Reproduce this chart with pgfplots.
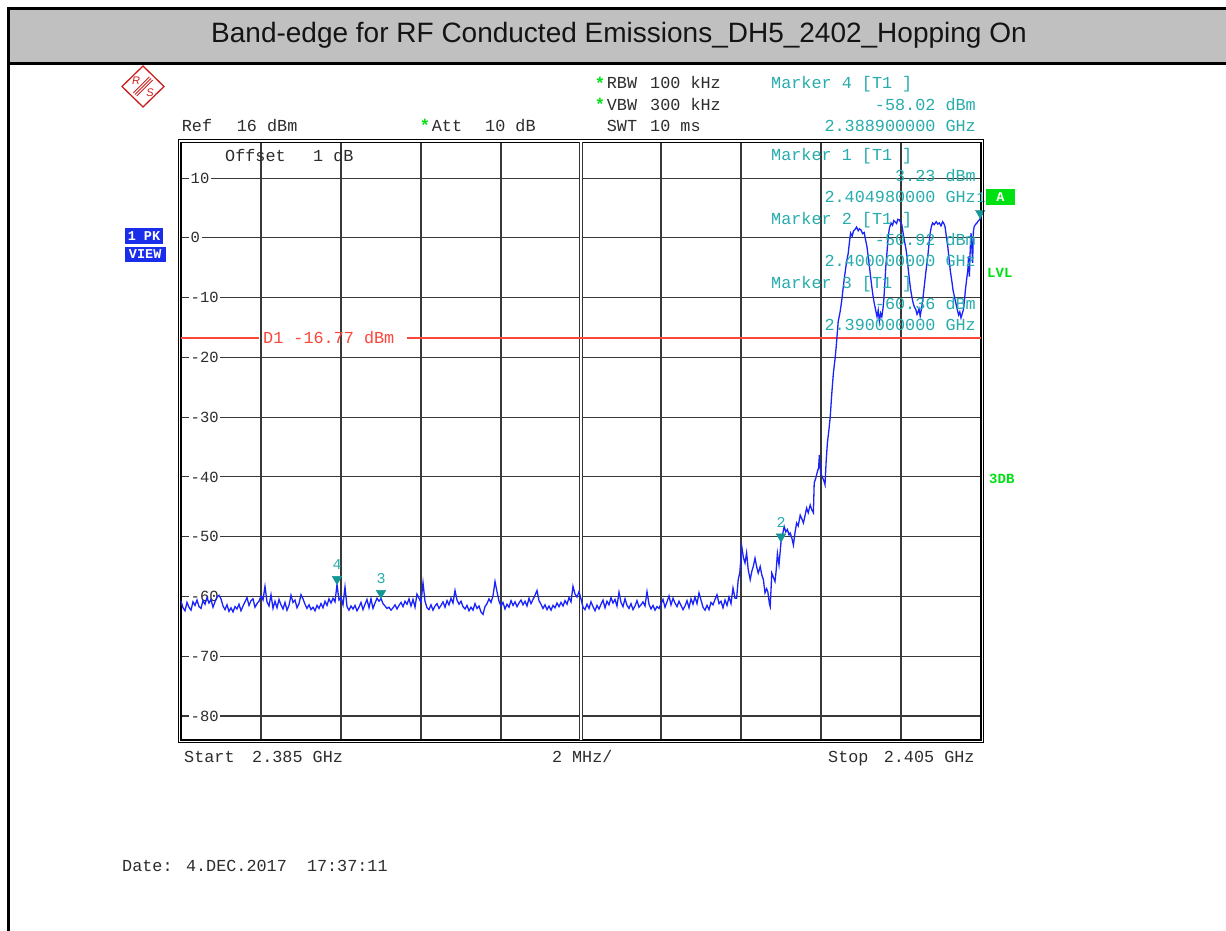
\documentclass[border=0pt]{standalone}
\usepackage{fontspec}
\setmainfont{Liberation Sans}
\newfontfamily\mono{Liberation Mono}
\usepackage{pgfplots}
\pgfplotsset{compat=1.18}
\definecolor{trace}{RGB}{25,35,250}
\definecolor{mk}{RGB}{40,172,172}
\definecolor{mkfill}{RGB}{20,150,150}
\definecolor{dl}{RGB}{250,70,60}
\definecolor{grn}{RGB}{0,225,20}
\definecolor{pkblue}{RGB}{25,45,235}
\definecolor{band}{RGB}{192,192,192}
\definecolor{txt}{RGB}{45,45,45}
\definecolor{rs}{RGB}{205,30,30}
\newcommand\mfont{\mono\fontsize{16.8}{18}\selectfont}
\begin{document}
\begin{tikzpicture}[x=1pt,y=-1pt,
  mt/.style={font=\mfont, text=txt, inner sep=0pt},
  mm/.style={font=\mfont, text=mk, inner sep=0pt},
  ylab/.style={anchor=west, xshift=8pt, fill=white, inner xsep=1.5pt, inner ysep=0.5pt, font=\mono\fontsize{15.5}{16}\selectfont, text=txt}]
\path[use as bounding box] (0,0) rectangle (1226,931);
\fill[white] (0,0) rectangle (1226,931);
% title band
\fill[band] (8,9) rectangle (1226,63);
\draw[line width=3pt] (7,8.5) -- (1226,8.5);
\draw[line width=3pt] (7,64) -- (1226,64);
\draw[line width=3pt] (8.5,7) -- (8.5,931);
\node[font=\fontsize{28}{32}\selectfont, text=black!92] at (619,35) {Band-edge for RF Conducted Emissions\_DH5\_2402\_Hopping On};

\begin{axis}[
  at={(181pt,-739.9pt)}, anchor=south west,
  width=800pt, height=597.7pt, scale only axis,
  xmin=2385, xmax=2405, ymin=-84, ymax=16,
  xtick={2387,2389,...,2403}, ytick={-80,-70,...,10},
  xticklabels={}, yticklabels={},
  major tick length=0pt,
  grid=major, grid style={line width=1.1pt, color=black!78},
  axis line style={line width=1.2pt, black},
  clip=false]
\draw[line width=0.9pt, double distance=1.4pt, black!80] (axis cs:2395,-84) -- (axis cs:2395,16);
\node[ylab] at (axis cs:2385,10) {10};
\node[ylab] at (axis cs:2385,0) {0};
\node[ylab] at (axis cs:2385,-10) {-10};
\node[ylab] at (axis cs:2385,-20) {-20};
\node[ylab] at (axis cs:2385,-30) {-30};
\node[ylab] at (axis cs:2385,-40) {-40};
\node[ylab] at (axis cs:2385,-50) {-50};
\node[ylab] at (axis cs:2385,-60) {-60};
\node[ylab] at (axis cs:2385,-70) {-70};
\node[ylab] at (axis cs:2385,-80) {-80};
% display line D1
\draw[dl, line width=1.3pt] (axis cs:2385,-16.77) -- (axis cs:2386.95,-16.77);
\draw[dl, line width=1.3pt] (axis cs:2390.65,-16.77) -- (axis cs:2405,-16.77);
\node[anchor=west, font=\mfont, text=dl, inner sep=0pt] at (axis cs:2387.05,-16.6) {D1 -16.77 dBm};
% trace
\addplot[trace, line width=1.3pt, mark=none] coordinates {
(2385.00,-60.8)(2385.05,-61.9)(2385.10,-62.4)(2385.15,-61.0)(2385.20,-61.8)(2385.25,-62.3)(2385.30,-60.9)(2385.35,-61.5)(2385.40,-60.6)(2385.45,-61.7)
(2385.50,-62.0)(2385.55,-60.7)(2385.60,-61.3)(2385.65,-60.2)(2385.70,-61.1)(2385.75,-60.5)(2385.80,-61.8)(2385.85,-60.9)(2385.90,-60.1)(2385.95,-59.8)
(2386.00,-60.4)(2386.05,-61.6)(2386.10,-62.2)(2386.15,-61.4)(2386.20,-62.5)(2386.25,-61.9)(2386.30,-62.6)(2386.35,-61.7)(2386.40,-62.1)(2386.45,-61.3)
(2386.50,-62.4)(2386.55,-61.6)(2386.60,-60.9)(2386.65,-60.2)(2386.70,-61.5)(2386.75,-60.7)(2386.80,-60.4)(2386.85,-61.8)(2386.90,-61.2)(2386.95,-60.8)
(2387.00,-59.9)(2387.05,-60.6)(2387.10,-58.3)(2387.15,-60.9)(2387.20,-61.6)(2387.25,-59.7)(2387.30,-62.0)(2387.35,-60.8)(2387.40,-61.9)(2387.45,-60.5)
(2387.50,-61.4)(2387.55,-62.1)(2387.60,-61.0)(2387.65,-62.3)(2387.70,-61.5)(2387.75,-59.8)(2387.80,-61.0)(2387.85,-60.6)(2387.90,-61.9)(2387.95,-61.2)
(2388.00,-59.7)(2388.05,-60.4)(2388.10,-61.3)(2388.15,-62.0)(2388.20,-61.4)(2388.25,-62.2)(2388.30,-61.8)(2388.35,-62.4)(2388.40,-61.5)(2388.45,-62.0)
(2388.50,-61.2)(2388.55,-61.9)(2388.60,-60.8)(2388.65,-61.5)(2388.70,-60.4)(2388.75,-61.1)(2388.80,-60.3)(2388.85,-60.9)(2388.90,-58.02)(2388.95,-60.6)
(2389.00,-60.2)(2389.05,-61.4)(2389.10,-58.4)(2389.15,-61.7)(2389.20,-62.3)(2389.25,-61.6)(2389.30,-62.1)(2389.35,-61.5)(2389.40,-62.4)(2389.45,-61.8)
(2389.50,-61.0)(2389.55,-62.2)(2389.60,-61.3)(2389.65,-60.5)(2389.70,-61.9)(2389.75,-60.4)(2389.80,-62.0)(2389.85,-61.1)(2389.90,-60.3)(2389.95,-60.8)
(2390.00,-60.36)(2390.05,-61.2)(2390.10,-61.6)(2390.15,-62.0)(2390.20,-61.8)(2390.25,-62.3)(2390.30,-61.9)(2390.35,-61.4)(2390.40,-62.1)(2390.45,-61.5)
(2390.50,-61.0)(2390.55,-61.7)(2390.60,-60.8)(2390.65,-61.3)(2390.70,-60.4)(2390.75,-61.6)(2390.80,-60.5)(2390.85,-61.8)(2390.90,-59.6)(2390.95,-60.3)
(2391.00,-61.0)(2391.05,-57.7)(2391.10,-60.8)(2391.15,-61.9)(2391.20,-62.2)(2391.25,-61.4)(2391.30,-62.3)(2391.35,-61.6)(2391.40,-61.2)(2391.45,-62.0)
(2391.50,-61.5)(2391.55,-60.9)(2391.60,-61.8)(2391.65,-60.7)(2391.70,-61.4)(2391.75,-60.3)(2391.80,-61.1)(2391.85,-59.0)(2391.90,-60.6)(2391.95,-61.3)
(2392.00,-60.8)(2392.05,-61.7)(2392.10,-62.1)(2392.15,-61.5)(2392.20,-62.4)(2392.25,-61.8)(2392.30,-62.3)(2392.35,-61.2)(2392.40,-62.0)(2392.45,-61.6)
(2392.50,-62.6)(2392.55,-63.0)(2392.60,-61.7)(2392.65,-61.2)(2392.70,-60.4)(2392.75,-61.0)(2392.80,-59.9)(2392.85,-57.5)(2392.90,-59.2)(2392.95,-60.8)
(2393.00,-61.6)(2393.05,-61.0)(2393.10,-62.1)(2393.15,-61.3)(2393.20,-61.8)(2393.25,-60.7)(2393.30,-61.5)(2393.35,-60.9)(2393.40,-61.7)(2393.45,-61.1)
(2393.50,-60.6)(2393.55,-61.4)(2393.60,-60.8)(2393.65,-61.6)(2393.70,-60.3)(2393.75,-61.2)(2393.80,-60.5)(2393.85,-59.8)(2393.90,-59.0)(2393.95,-60.7)
(2394.00,-61.3)(2394.05,-62.0)(2394.10,-61.4)(2394.15,-62.2)(2394.20,-61.6)(2394.25,-62.3)(2394.30,-61.5)(2394.35,-61.9)(2394.40,-61.1)(2394.45,-61.7)
(2394.50,-61.0)(2394.55,-61.6)(2394.60,-60.7)(2394.65,-61.3)(2394.70,-60.2)(2394.75,-60.9)(2394.80,-58.3)(2394.85,-59.6)(2394.90,-60.1)(2394.95,-59.2)
(2395.00,-60.4)(2395.05,-61.8)(2395.10,-62.2)(2395.15,-61.3)(2395.20,-62.0)(2395.25,-60.9)(2395.30,-61.7)(2395.35,-62.4)(2395.40,-61.5)(2395.45,-62.1)
(2395.50,-61.3)(2395.55,-60.6)(2395.60,-61.9)(2395.65,-60.8)(2395.70,-61.4)(2395.75,-60.2)(2395.80,-61.1)(2395.85,-60.5)(2395.90,-61.6)(2395.95,-59.3)
(2396.00,-61.0)(2396.05,-61.7)(2396.10,-60.4)(2396.15,-61.5)(2396.20,-62.0)(2396.25,-61.2)(2396.30,-62.2)(2396.35,-61.6)(2396.40,-60.7)(2396.45,-61.8)
(2396.50,-61.4)(2396.55,-60.9)(2396.60,-61.6)(2396.65,-59.2)(2396.70,-61.3)(2396.75,-62.1)(2396.80,-61.5)(2396.85,-62.3)(2396.90,-61.7)(2396.95,-62.0)
(2397.00,-61.2)(2397.05,-60.5)(2397.10,-61.8)(2397.15,-60.9)(2397.20,-59.9)(2397.25,-61.4)(2397.30,-60.3)(2397.35,-61.1)(2397.40,-61.7)(2397.45,-60.8)
(2397.50,-61.5)(2397.55,-62.2)(2397.60,-61.6)(2397.65,-60.7)(2397.70,-61.9)(2397.75,-60.4)(2397.80,-61.3)(2397.85,-60.1)(2397.90,-61.2)(2397.95,-59.4)
(2398.00,-60.6)(2398.05,-61.8)(2398.10,-62.3)(2398.15,-61.5)(2398.20,-62.2)(2398.25,-61.0)(2398.30,-61.4)(2398.35,-60.5)(2398.40,-59.7)(2398.45,-61.2)
(2398.50,-60.8)(2398.55,-61.9)(2398.60,-60.6)(2398.65,-61.5)(2398.70,-60.1)(2398.75,-61.2)(2398.80,-58.6)(2398.85,-60.3)
(2398.89,-60.3)(2398.93,-57.2)(2398.97,-56.0)(2399.02,-51.7)(2399.06,-53.5)(2399.10,-54.4)(2399.14,-52.7)(2399.18,-55.5)(2399.23,-57.2)(2399.27,-55.8)
(2399.31,-54.9)(2399.35,-53.6)(2399.39,-55.0)(2399.43,-56.1)(2399.48,-55.0)(2399.52,-56.4)(2399.56,-57.2)(2399.60,-59.4)(2399.64,-58.7)(2399.67,-59.2)
(2399.71,-61.2)(2399.73,-61.7)(2399.77,-56.1)(2399.81,-56.8)(2399.85,-57.5)(2399.88,-55.6)(2399.91,-52.8)(2399.95,-54.7)(2400.00,-50.92)(2400.04,-49.6)
(2400.08,-48.3)(2400.12,-49.2)(2400.16,-48.8)(2400.20,-49.7)(2400.23,-49.4)(2400.27,-50.2)(2400.31,-51.4)(2400.35,-49.3)(2400.39,-47.7)(2400.43,-48.2)
(2400.48,-46.4)(2400.52,-47.0)(2400.56,-47.7)(2400.60,-46.5)(2400.64,-45.2)(2400.68,-46.0)(2400.73,-44.7)(2400.77,-45.5)(2400.81,-46.0)(2400.83,-41.0)
(2400.87,-40.2)(2400.91,-39.1)(2400.94,-38.5)(2400.96,-36.3)(2400.99,-39.3)(2401.03,-40.0)(2401.07,-40.6)(2401.10,-41.3)(2401.13,-37.2)(2401.16,-34.3)
(2401.20,-32.0)(2401.23,-30.0)(2401.27,-26.0)(2401.31,-22.6)(2401.35,-20.3)(2401.38,-18.2)(2401.43,-14.0)(2401.48,-12.3)(2401.52,-10.4)(2401.56,-8.0)
(2401.60,-5.9)(2401.64,-4.0)(2401.68,-2.6)(2401.71,-0.8)(2401.74,0.8)(2401.78,0.3)(2401.81,1.1)(2401.85,1.4)(2401.89,1.8)(2401.93,1.2)
(2401.96,1.5)(2402.00,1.3)(2402.04,0.7)(2402.08,0.9)(2402.11,-0.2)(2402.15,-1.5)(2402.18,-3.2)(2402.21,-4.8)(2402.24,-6.5)(2402.27,-8.2)
(2402.30,-9.7)(2402.33,-10.9)(2402.37,-12.2)(2402.40,-13.2)(2402.43,-12.1)(2402.46,-14.0)(2402.49,-12.6)(2402.52,-13.2)(2402.55,-11.8)(2402.57,-10.4)
(2402.60,-7.2)(2402.62,-4.8)(2402.65,-2.4)(2402.68,0.2)(2402.71,1.6)(2402.75,2.5)(2402.79,2.1)(2402.82,2.9)(2402.85,2.7)(2402.89,2.4)
(2402.92,3.1)(2402.96,3.0)(2402.99,2.6)(2403.02,2.2)(2403.05,0.9)(2403.08,-0.3)(2403.12,-1.7)(2403.15,-3.1)(2403.18,-5.2)(2403.21,-7.0)
(2403.24,-8.6)(2403.27,-9.8)(2403.30,-10.8)(2403.33,-11.5)(2403.37,-12.0)(2403.40,-12.8)(2403.42,-12.5)(2403.45,-11.9)(2403.48,-13.1)(2403.52,-11.5)
(2403.55,-10.0)(2403.58,-8.2)(2403.62,-5.8)(2403.67,-3.1)(2403.70,-1.0)(2403.73,0.8)(2403.76,1.9)(2403.79,2.5)(2403.83,2.2)(2403.88,2.7)
(2403.92,2.3)(2403.96,2.5)(2404.00,2.0)(2404.04,2.7)(2404.07,2.4)(2404.10,1.9)(2404.13,0.4)(2404.17,-1.5)(2404.20,-3.4)(2404.23,-5.4)
(2404.27,-7.2)(2404.30,-8.7)(2404.34,-10.0)(2404.38,-11.2)(2404.41,-12.1)(2404.44,-12.9)(2404.47,-12.4)(2404.50,-13.4)(2404.53,-12.7)(2404.56,-12.0)
(2404.59,-10.2)(2404.61,-8.7)(2404.64,-7.0)(2404.67,-5.4)(2404.69,-3.1)(2404.71,-6.5)(2404.73,-2.0)(2404.75,0.8)(2404.77,-1.5)(2404.79,-4.2)
(2404.81,1.1)(2404.83,1.9)(2404.87,2.3)(2404.90,2.5)(2404.93,2.8)(2404.96,3.0)(2404.98,3.23)(2405.00,3.8)
};
% markers
\addplot[only marks, mark=triangle*, mark size=5.5pt, mkfill,
  mark options={yshift=5.5pt, rotate=180, fill=mkfill, draw=mkfill},
  point meta=explicit symbolic, nodes near coords,
  every node near coord/.append style={font=\mono\fontsize{15}{16}\selectfont, text=mk, anchor=south, yshift=8.5pt, inner sep=0.5pt}]
  coordinates {(2388.9,-58.02) [4] (2390.0,-60.36) [3] (2400.0,-50.92) [2]};
\addplot[only marks, mark=triangle*, mark size=5.5pt, mkfill,
  mark options={yshift=5.5pt, rotate=180, fill=mkfill, draw=mkfill},
  point meta=explicit symbolic, nodes near coords,
  every node near coord/.append style={font=\mono\fontsize{15}{16}\selectfont, text=mk, anchor=south, xshift=1pt, yshift=10pt, inner sep=0.5pt}]
  coordinates {(2404.98,3.23) [1]};
\end{axis}
% outer frame (double line)
\draw[line width=1.1pt] (178.3,139.6) rectangle (983.7,742.5);

% R&S logo
\begin{scope}[shift={(143,86.5)}]
\draw[rs, line width=1.3pt] (0,-20.5) -- (21,0) -- (0,20.5) -- (-21,0) -- cycle;
\draw[rs, line width=0.8pt] (8,-8) -- (-8,8);
\draw[rs, line width=0.8pt] (9.6,-6.4) -- (-6.4,9.6);
\draw[rs, line width=0.8pt] (6.4,-9.6) -- (-9.6,6.4);
\node[rs, font=\fontsize{11}{12}\selectfont\itshape, inner sep=0pt] at (-7,-6) {R};
\node[rs, font=\fontsize{11}{12}\selectfont\itshape, inner sep=0pt] at (7,6.5) {S};
\end{scope}

% header settings
\node[text=grn, font=\mono\bfseries\fontsize{17}{18}\selectfont, inner sep=0pt] at (600,83) {*};
\node[text=grn, font=\mono\bfseries\fontsize{17}{18}\selectfont, inner sep=0pt] at (600,104.5) {*};
\node[text=grn, font=\mono\bfseries\fontsize{17}{18}\selectfont, inner sep=0pt] at (425,125.5) {*};
\node[mt, anchor=base west] at (606.7,88.8) {RBW};
\node[mt, anchor=base west] at (650,88.8) {100 kHz};
\node[mt, anchor=base west] at (606.7,110.3) {VBW};
\node[mt, anchor=base west] at (650,110.3) {300 kHz};
\node[mt, anchor=base west] at (606.7,131.5) {SWT};
\node[mt, anchor=base west] at (650,131.5) {10 ms};
\node[mt, anchor=base west] at (181.7,131.5) {Ref};
\node[mt, anchor=base west] at (236.7,131.5) {16 dBm};
\node[mt, anchor=base west] at (431.7,131.5) {Att};
\node[mt, anchor=base west] at (485,131.5) {10 dB};
\node[mt, anchor=base west] at (225,161.5) {Offset};
\node[mt, anchor=base west] at (313,161.5) {1 dB};

% marker blocks
\node[mm, anchor=base west] at (771,88.8) {Marker 4 [T1 ]};
\node[mm, anchor=base east] at (976,110.3) {-58.02 dBm};
\node[mm, anchor=base east] at (976,131.5) {2.388900000 GHz};
\node[mm, anchor=base west] at (771,160.5) {Marker 1 [T1 ]};
\node[mm, anchor=base east] at (976,181.5) {3.23 dBm};
\node[mm, anchor=base east] at (976,202.8) {2.404980000 GHz};
\node[mm, anchor=base west] at (771,224.2) {Marker 2 [T1 ]};
\node[mm, anchor=base east] at (976,245.5) {-50.92 dBm};
\node[mm, anchor=base east] at (976,266.8) {2.400000000 GHz};
\node[mm, anchor=base west] at (771,288.5) {Marker 3 [T1 ]};
\node[mm, anchor=base east] at (976,309.5) {-60.36 dBm};
\node[mm, anchor=base east] at (976,330.8) {2.390000000 GHz};

% left badges
\fill[pkblue] (125,228) rectangle (163,243.5);
\node[text=white, font=\mono\bfseries\fontsize{13.5}{14}\selectfont, inner sep=0pt] at (144,235.8) {1 PK};
\fill[pkblue] (125,247) rectangle (165.5,262);
\node[text=white, font=\mono\bfseries\fontsize{13.5}{14}\selectfont, inner sep=0pt] at (145.2,254.5) {VIEW};
% right badges
\fill[grn] (986,188.5) rectangle (1015,205);
\node[text=white, font=\mono\bfseries\fontsize{13.5}{14}\selectfont, inner sep=0pt] at (1000.5,196.8) {A};
\node[text=grn, font=\mono\bfseries\fontsize{14}{15}\selectfont, inner sep=0pt, anchor=west] at (987,272.7) {LVL};
\node[text=grn, font=\mono\bfseries\fontsize{14}{15}\selectfont, inner sep=0pt, anchor=west] at (989,479) {3DB};

% footer
\node[mt, anchor=base west] at (184,762.5) {Start};
\node[mt, anchor=base west] at (252,762.5) {2.385 GHz};
\node[mt, anchor=base west] at (551.8,762.5) {2 MHz/};
\node[mt, anchor=base west] at (828,762.5) {Stop};
\node[mt, anchor=base west] at (883.6,762.5) {2.405 GHz};
\node[mt, anchor=base west] at (122,871.5) {Date: 4.DEC.2017\ \ 17:37:11};
\end{tikzpicture}
\end{document}
